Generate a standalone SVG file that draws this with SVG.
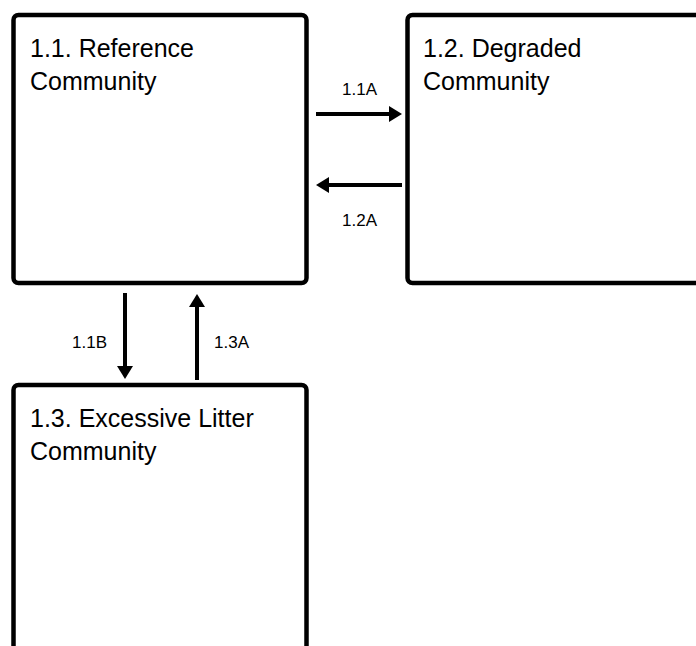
<svg xmlns="http://www.w3.org/2000/svg" width="696" height="646" viewBox="0 0 696 646">
  <style>
    .box { fill: #fff; stroke: #000; stroke-width: 4.5; }
    .title { font-family: "Liberation Sans", Arial, sans-serif; font-size: 25px; fill: #000; }
    .lbl { font-family: "Liberation Sans", Arial, sans-serif; font-size: 17px; fill: #000; }
    .conn { stroke: #000; stroke-width: 4; fill: none; marker-end: url(#ah); }
  </style>
  <defs>
    <marker id="ah" markerUnits="userSpaceOnUse" markerWidth="14" markerHeight="18" refX="1" refY="8" orient="auto" viewBox="0 0 14 16">
      <path d="M0,0 L13,8 L0,16 z" fill="#000"/>
    </marker>
  </defs>
  <rect width="696" height="646" fill="#fff"/>
  <g id="node-1-1">
    <rect class="box" x="13.5" y="15" width="293" height="268" rx="5"/>
    <text class="title" x="30" y="57">1.1. Reference</text>
    <text class="title" x="30" y="90">Community</text>
  </g>
  <g id="node-1-2">
    <rect class="box" x="407.5" y="15" width="293" height="268" rx="5"/>
    <text class="title" x="423" y="57">1.2. Degraded</text>
    <text class="title" x="423" y="90">Community</text>
  </g>
  <g id="node-1-3">
    <rect class="box" x="13.5" y="385" width="293" height="268" rx="5"/>
    <text class="title" x="30" y="427">1.3. Excessive Litter</text>
    <text class="title" x="30" y="460">Community</text>
  </g>
  <g id="connectors">
    <line class="conn" x1="316" y1="114" x2="390" y2="114"/>
    <text class="lbl" x="342" y="95">1.1A</text>
    <line class="conn" x1="402" y1="185" x2="328" y2="185"/>
    <text class="lbl" x="342" y="226">1.2A</text>
    <line class="conn" x1="125" y1="293" x2="125" y2="367"/>
    <text class="lbl" x="72" y="348">1.1B</text>
    <line class="conn" x1="197" y1="380" x2="197" y2="306"/>
    <text class="lbl" x="214" y="348">1.3A</text>
  </g>
</svg>
